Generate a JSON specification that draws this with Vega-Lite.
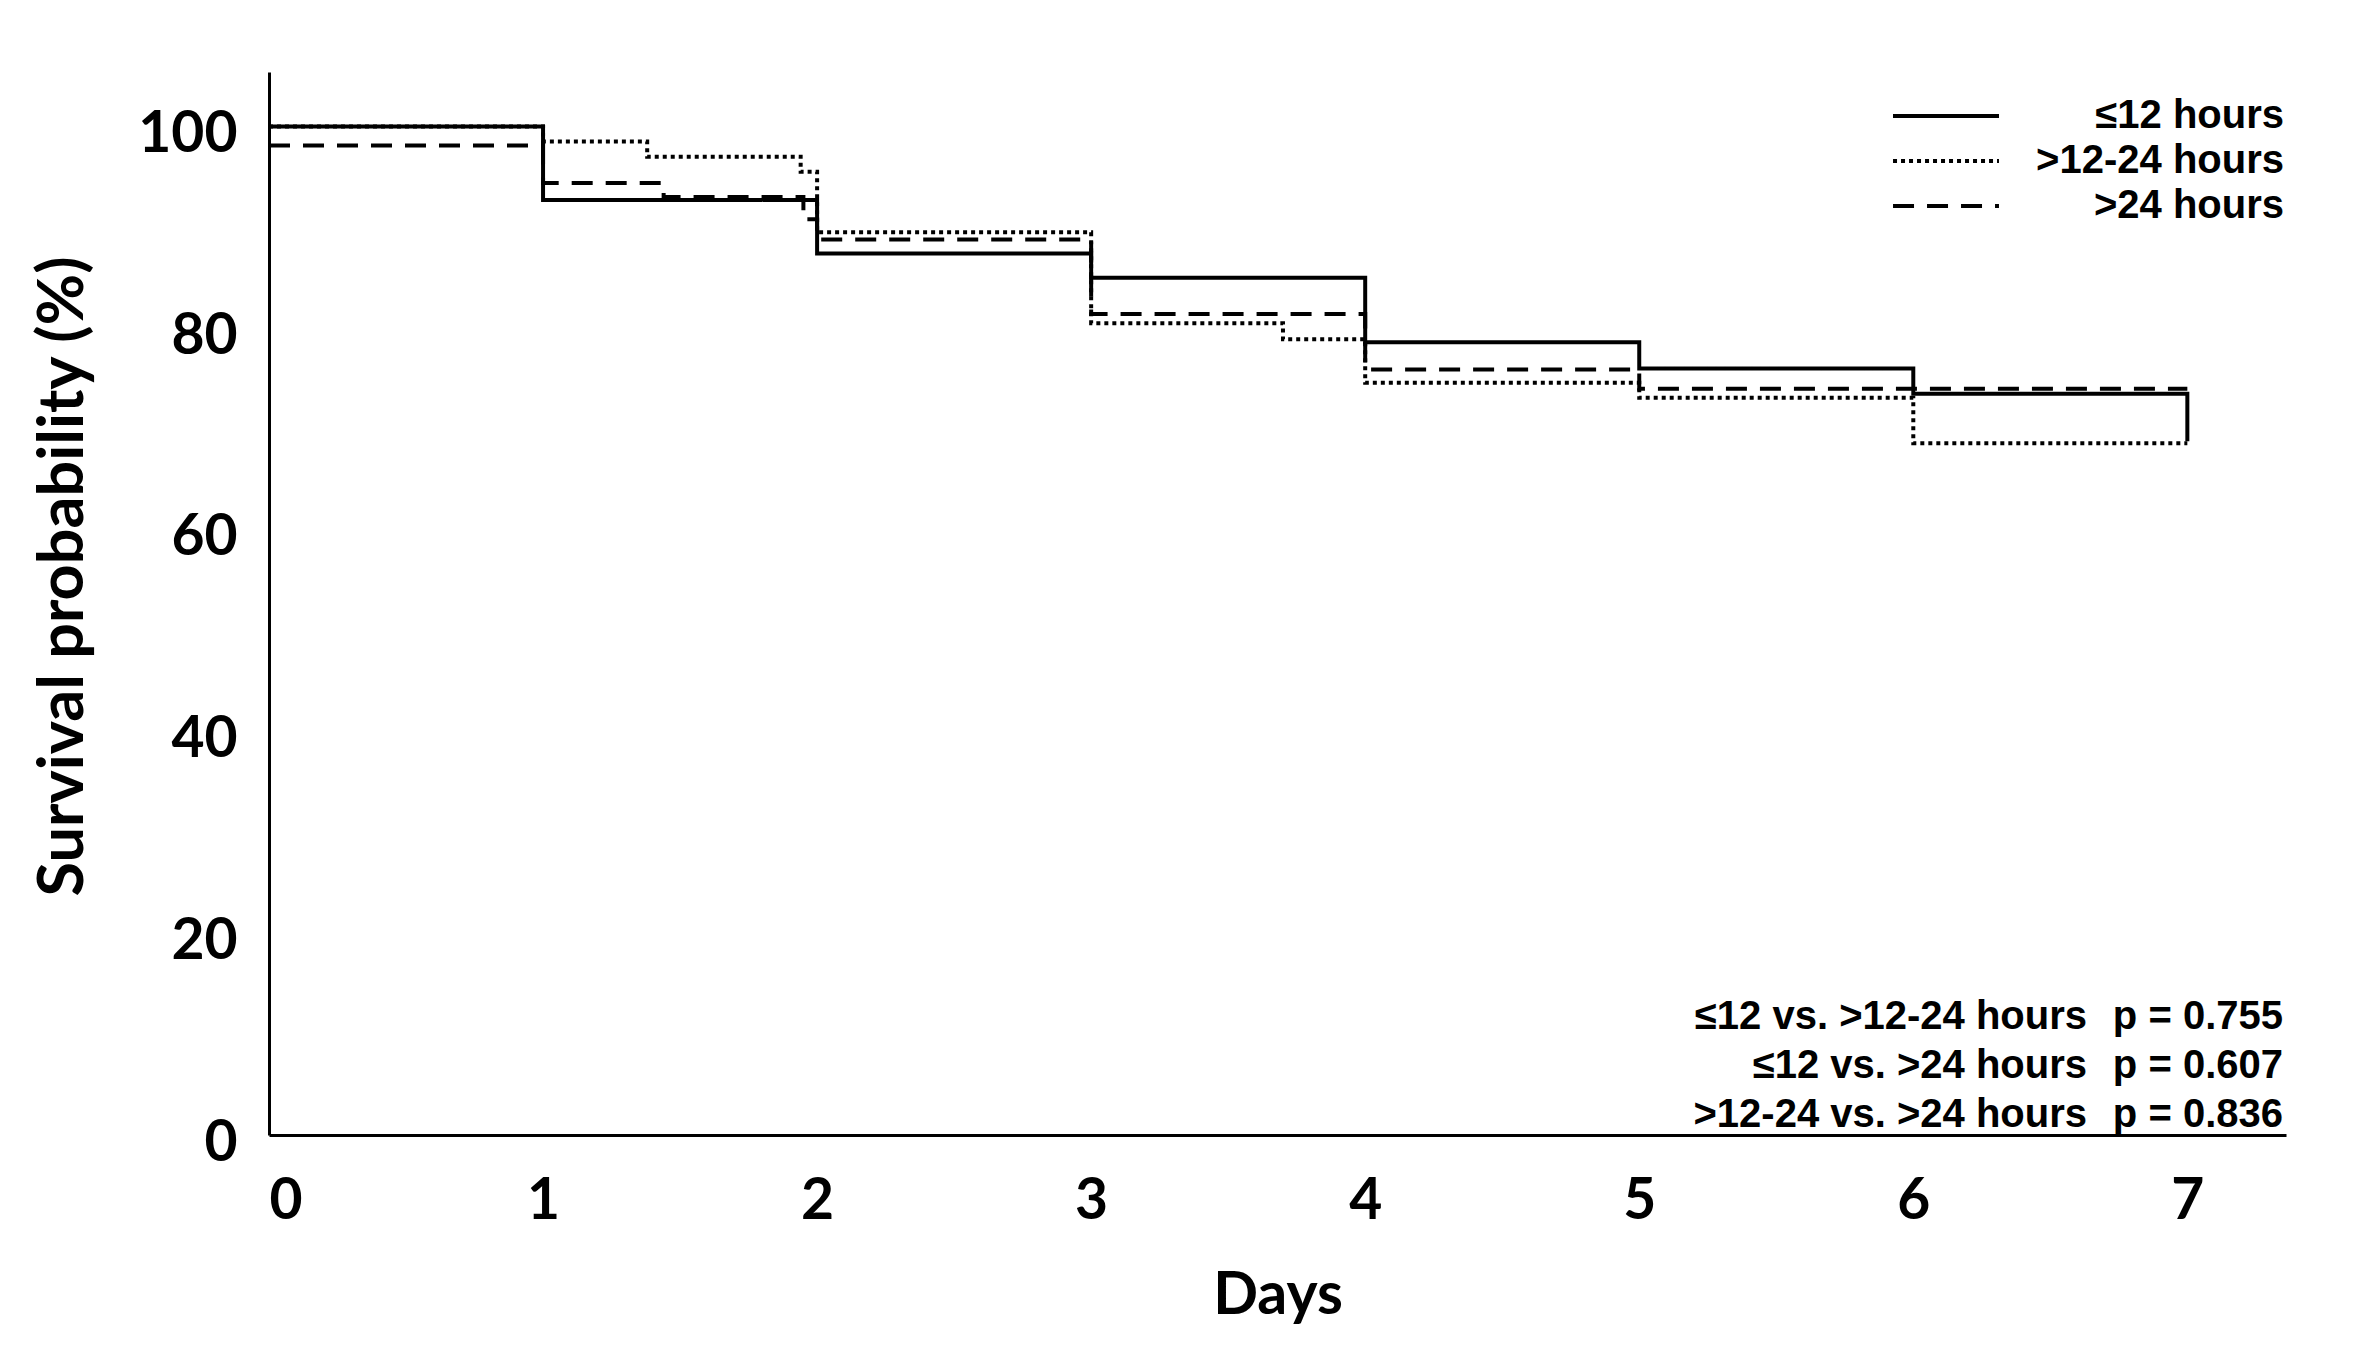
{
  "$schema": "https://vega.github.io/schema/vega-lite/v6.json",
  "width": 2017,
  "height": 1063,
  "autosize": {"type": "none"},
  "padding": {"left": 269, "top": 72, "right": 80, "bottom": 231},
  "background": "white",
  "config": {
    "view": {"stroke": null},
    "axis": {
      "grid": false,
      "ticks": false,
      "tickSize": 0,
      "domainColor": "black",
      "domainWidth": 3,
      "labelFont": "Lato",
      "labelFontWeight": "bold",
      "labelFontSize": 57,
      "labelColor": "black",
      "titleFont": "Lato",
      "titleFontWeight": "bold",
      "titleFontSize": 59,
      "titleColor": "black"
    }
  },
  "layer": [
    {
      "data": {
        "values": [
          {"group": "≤12 hours", "day": 0, "survival": 100},
          {"group": "≤12 hours", "day": 1, "survival": 92.7},
          {"group": "≤12 hours", "day": 2, "survival": 87.4},
          {"group": "≤12 hours", "day": 3, "survival": 85.0},
          {"group": "≤12 hours", "day": 4, "survival": 78.6},
          {"group": "≤12 hours", "day": 5, "survival": 76.0},
          {"group": "≤12 hours", "day": 6, "survival": 73.5},
          {"group": "≤12 hours", "day": 7, "survival": 68.8},
          {"group": ">12-24 hours", "day": 0, "survival": 100},
          {"group": ">12-24 hours", "day": 1, "survival": 98.5},
          {"group": ">12-24 hours", "day": 1.38, "survival": 97.0},
          {"group": ">12-24 hours", "day": 1.94, "survival": 95.5},
          {"group": ">12-24 hours", "day": 2, "survival": 89.5},
          {"group": ">12-24 hours", "day": 3, "survival": 80.5},
          {"group": ">12-24 hours", "day": 3.7, "survival": 78.9},
          {"group": ">12-24 hours", "day": 4, "survival": 74.6},
          {"group": ">12-24 hours", "day": 5, "survival": 73.1},
          {"group": ">12-24 hours", "day": 6, "survival": 68.6},
          {"group": ">12-24 hours", "day": 7, "survival": 68.6},
          {"group": ">24 hours", "day": 0, "survival": 98.1},
          {"group": ">24 hours", "day": 1, "survival": 94.4},
          {"group": ">24 hours", "day": 1.44, "survival": 93.0},
          {"group": ">24 hours", "day": 1.95, "survival": 90.8},
          {"group": ">24 hours", "day": 2, "survival": 88.8},
          {"group": ">24 hours", "day": 3, "survival": 81.4},
          {"group": ">24 hours", "day": 4, "survival": 75.9},
          {"group": ">24 hours", "day": 5, "survival": 74.0},
          {"group": ">24 hours", "day": 7, "survival": 74.0}
        ]
      },
      "mark": {"type": "line", "interpolate": "step-after", "strokeWidth": 4, "color": "black"},
      "encoding": {
        "x": {
          "field": "day",
          "type": "quantitative",
          "scale": {"domain": [0, 7.36], "nice": false},
          "axis": {
            "values": [0, 1, 2, 3, 4, 5, 6, 7],
            "format": "d",
            "title": "Days",
            "labelBaseline": "middle",
            "labelPadding": 66,
            "labelFlush": true,
            "titleY": 160,
            "titleBaseline": "middle"
          }
        },
        "y": {
          "field": "survival",
          "type": "quantitative",
          "scale": {"domain": [0, 105.4], "nice": false},
          "axis": {
            "values": [0, 20, 40, 60, 80, 100],
            "format": "d",
            "title": "Survival probability (%)",
            "titleFontSize": 63,
            "labelPadding": 32,
            "labelOffset": 8,
            "titleX": -206,
            "titleY": 504,
            "titleAngle": -90,
            "titleAlign": "center",
            "titleBaseline": "middle"
          }
        },
        "strokeDash": {
          "field": "group",
          "type": "nominal",
          "scale": {
            "domain": ["≤12 hours", ">12-24 hours", ">24 hours"],
            "range": [[1, 0], [4, 4], [21, 13]]
          },
          "legend": {
            "orient": "none",
            "legendX": 1657,
            "legendY": 24,
            "title": null,
            "symbolType": "M-5,0H5",
            "symbolSize": 449,
            "symbolStrokeWidth": 4,
            "symbolStrokeColor": "black",
            "symbolFillColor": "transparent",
            "labelFont": "Liberation Sans",
            "labelFontWeight": "bold",
            "labelFontSize": 40,
            "labelColor": "black",
            "labelAlign": "right",
            "labelOffset": 318,
            "labelLimit": 500,
            "rowPadding": 5
          }
        }
      }
    },
    {
      "data": {
        "values": [
          {"comparison": "≤12 vs. >12-24 hours", "p": "p = 0.755"},
          {"comparison": "≤12 vs. >24 hours", "p": "p = 0.607"},
          {"comparison": ">12-24 vs. >24 hours", "p": "p = 0.836"}
        ]
      },
      "transform": [{"window": [{"op": "row_number", "as": "line"}]}],
      "encoding": {
        "y": {
          "field": "line",
          "type": "quantitative",
          "axis": null,
          "scale": {"domain": [-18.69, 3], "nice": false, "zero": false, "reverse": true}
        }
      },
      "layer": [
        {
          "mark": {"type": "text", "font": "Liberation Sans", "fontWeight": "bold", "fontSize": 40, "align": "right", "baseline": "bottom", "color": "black"},
          "encoding": {
            "x": {"datum": 6.634},
            "text": {"field": "comparison"}
          }
        },
        {
          "mark": {"type": "text", "font": "Liberation Sans", "fontWeight": "bold", "fontSize": 40, "align": "right", "baseline": "bottom", "color": "black"},
          "encoding": {
            "x": {"datum": 7.349},
            "text": {"field": "p"}
          }
        }
      ]
    }
  ],
  "resolve": {"scale": {"y": "independent"}, "axis": {"y": "independent"}}
}
